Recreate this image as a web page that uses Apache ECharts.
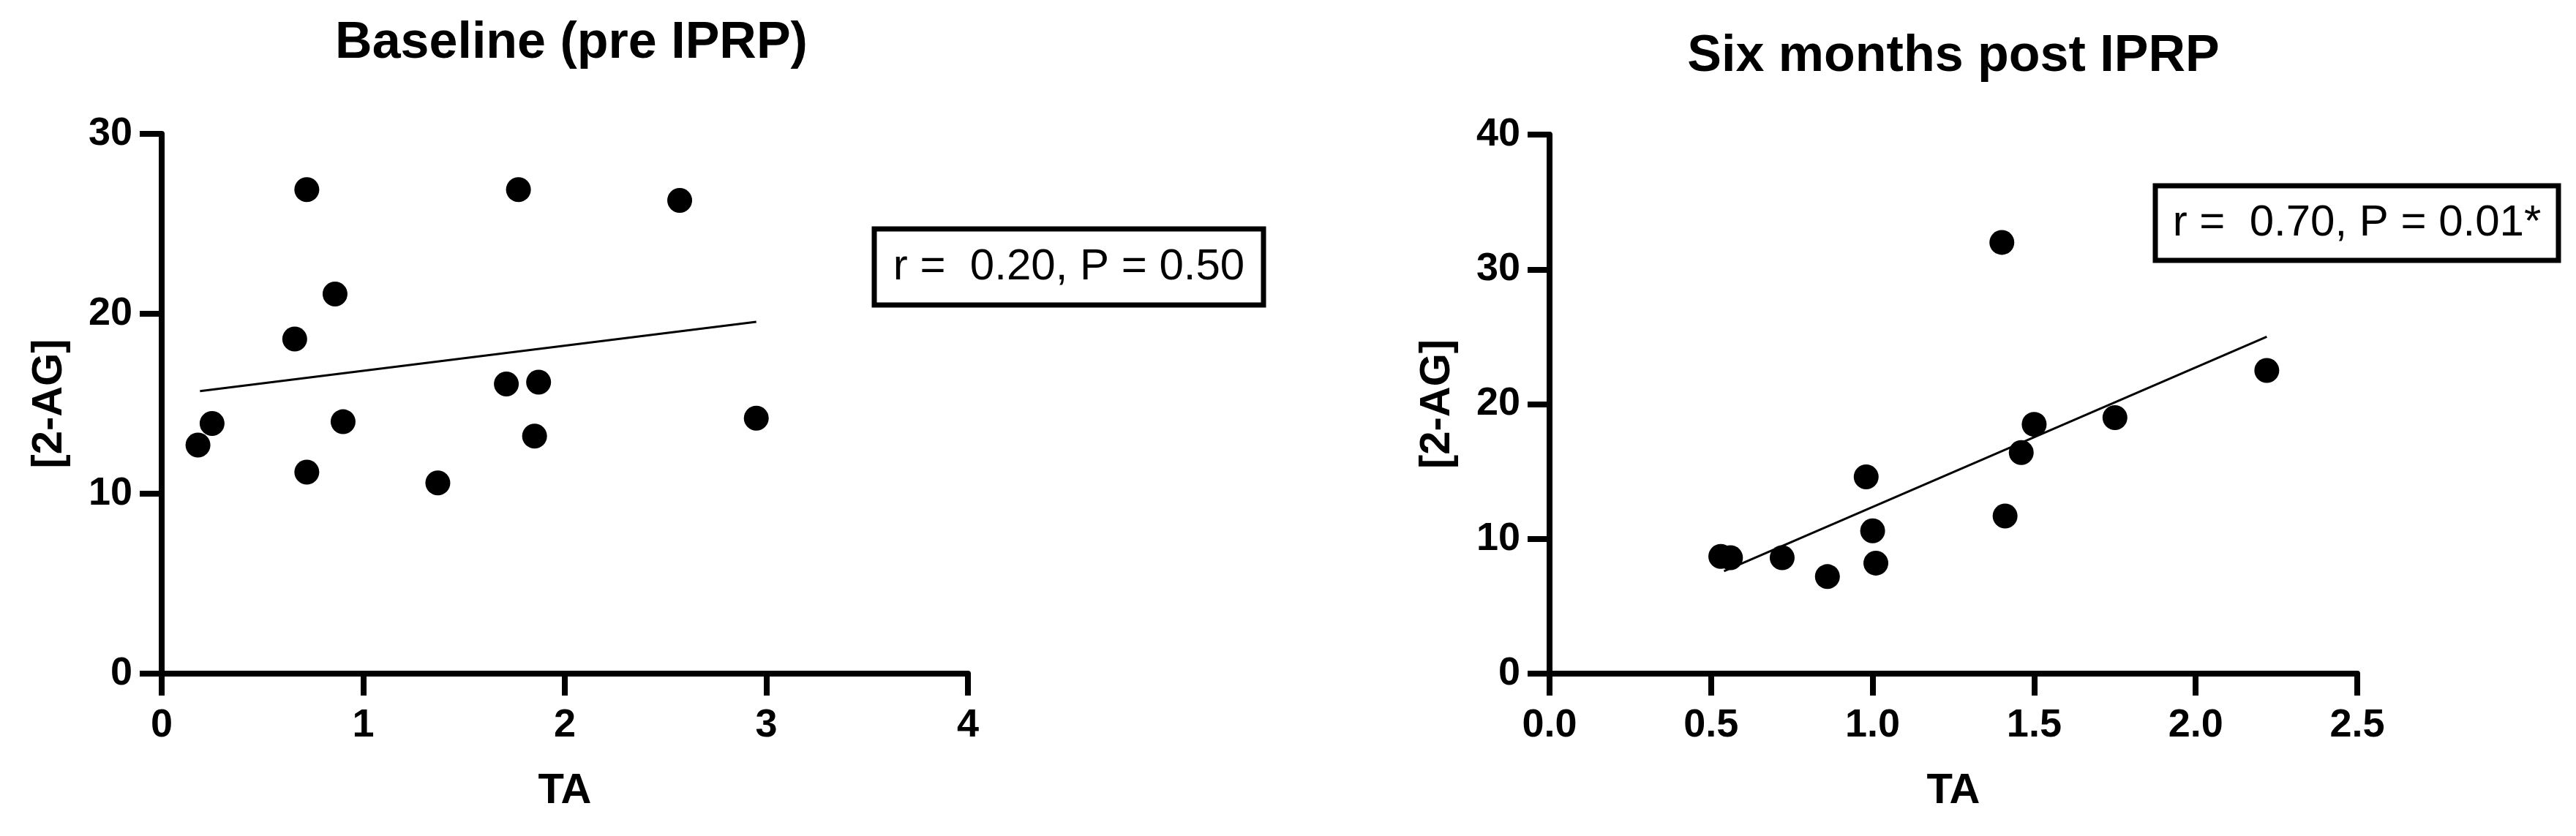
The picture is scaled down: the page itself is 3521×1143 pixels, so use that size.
<!DOCTYPE html>
<html>
<head>
<meta charset="utf-8">
<script src="https://cdn.jsdelivr.net/npm/echarts@6/dist/echarts.min.js"></script>
<style>
  html, body { margin: 0; background: #fff; }
  #chart { width: 3521px; height: 1143px; }
</style>
</head>
<body>
<div id="chart"></div>
<script>
// Baseline (pre IPRP)
const baseTA = [0.18, 0.25, 0.66, 0.72, 0.72, 0.86, 0.90, 1.37, 1.71, 1.87, 1.85, 1.77, 2.57, 2.95];
const base2AG = [12.7, 13.9, 18.6, 26.9, 11.2, 21.1, 14.0, 10.6, 16.1, 16.2, 13.2, 26.9, 26.3, 14.2];
const baseFitTA = [0.19, 2.95];
const baseFit2AG = [15.7, 19.55];
const baseXTicks = [0, 1, 2, 3, 4];
const baseYTicks = [0, 10, 20, 30];
const baseStat = "r =  0.20, P = 0.50";

// Six months post IPRP
const postTA = [0.53, 0.56, 0.72, 0.86, 0.98, 1.00, 1.01, 1.40, 1.41, 1.46, 1.50, 1.75, 2.22];
const post2AG = [8.7, 8.6, 8.6, 7.2, 14.6, 10.6, 8.2, 32.0, 11.7, 16.4, 18.5, 19.0, 22.5];
const postFitTA = [0.54, 2.22];
const postFit2AG = [7.6, 25.0];
const postXTicks = [0, 0.5, 1, 1.5, 2, 2.5];
const postYTicks = [0, 10, 20, 30, 40];
const postStat = "r =  0.70, P = 0.01*";

const font = "Liberation Sans, Arial, sans-serif";

function zip(a, b) {
  return a.map((v, i) => [v, b[i]]);
}

function axis(ticks, idx, isX, decimals) {
  return {
    type: "value",
    gridIndex: idx,
    min: ticks[0],
    max: ticks[ticks.length - 1],
    interval: ticks[1] - ticks[0],
    name: isX ? "TA" : "[2-AG]",
    nameLocation: "middle",
    nameGap: isX ? 132 : 124,
    nameTextStyle: { fontFamily: font, fontWeight: "bold", fontSize: isX ? 58 : 58, color: "#000" },
    axisLine: { show: true, onZero: false, lineStyle: { color: "#000", width: 8 } },
    axisTick: { show: true, length: 30, lineStyle: { color: "#000", width: 8 } },
    axisLabel: {
      margin: isX ? 44 : 40,
      fontFamily: font,
      fontWeight: "bold",
      fontSize: 54,
      color: "#000",
      formatter: v => v.toFixed(decimals)
    },
    splitLine: { show: false }
  };
}

function statBox(x, y, w, h, text) {
  return {
    type: "group",
    children: [
      { type: "rect", shape: { x: x, y: y, width: w, height: h },
        style: { fill: "#fff", stroke: "#000", lineWidth: 7 } },
      { type: "text", x: x + w / 2, y: y + h / 2,
        style: { text: text, fontFamily: font, fontSize: 60, fill: "#000",
                 textAlign: "center", textVerticalAlign: "middle" } }
    ]
  };
}

let myChart = echarts.init(document.getElementById("chart"));

let option = {
  animation: false,
  backgroundColor: "#fff",
  title: [
    { text: "Baseline (pre IPRP)", left: 776, top: 20, textAlign: "center",
      textStyle: { fontFamily: font, fontWeight: "bold", fontSize: 70, color: "#000" } },
    { text: "Six months post IPRP", left: 2665, top: 38, textAlign: "center",
      textStyle: { fontFamily: font, fontWeight: "bold", fontSize: 70, color: "#000" } }
  ],
  grid: [
    { left: 221, top: 183, width: 1102, height: 738 },
    { left: 2118, top: 184, width: 1104, height: 737 }
  ],
  xAxis: [axis(baseXTicks, 0, true, 0), axis(postXTicks, 1, true, 1)],
  yAxis: [axis(baseYTicks, 0, false, 0), axis(postYTicks, 1, false, 0)],
  series: [
    { type: "line", xAxisIndex: 0, yAxisIndex: 0, data: zip(baseFitTA, baseFit2AG),
      showSymbol: false, lineStyle: { color: "#000", width: 3 } },
    { type: "scatter", xAxisIndex: 0, yAxisIndex: 0, data: zip(baseTA, base2AG),
      symbol: "circle", symbolSize: 34, itemStyle: { color: "#000", opacity: 1 } },
    { type: "line", xAxisIndex: 1, yAxisIndex: 1, data: zip(postFitTA, postFit2AG),
      showSymbol: false, lineStyle: { color: "#000", width: 3 } },
    { type: "scatter", xAxisIndex: 1, yAxisIndex: 1, data: zip(postTA, post2AG),
      symbol: "circle", symbolSize: 34, itemStyle: { color: "#000", opacity: 1 } }
  ],
  graphic: [
    statBox(1195, 313, 532, 104, baseStat),
    statBox(2946, 254, 551, 102, postStat)
  ]
};

myChart.setOption(option);
</script>
</body>
</html>
